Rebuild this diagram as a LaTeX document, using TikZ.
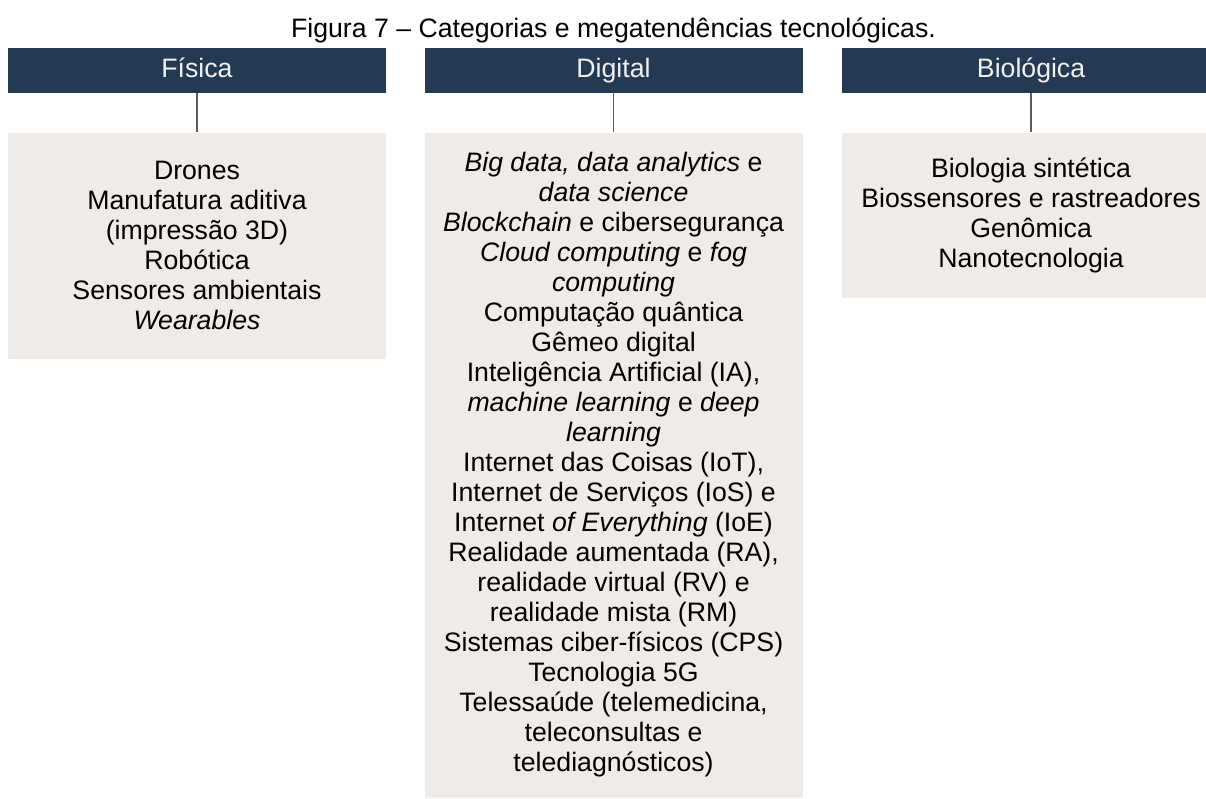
\documentclass[tikz,border=0pt]{standalone}
\usepackage{fontspec}
\setmainfont{Liberation Sans}
\usetikzlibrary{positioning}
\definecolor{navy}{HTML}{243A52}
\definecolor{stone}{HTML}{EEEBE8}
\definecolor{linkgray}{HTML}{5A5A5A}

\begin{document}
\begin{tikzpicture}[x=0.75pt, y=-0.75pt,
  every node/.style={font=\fontsize{20}{22.5}\selectfont},
  head/.style={rectangle, fill=navy, text=white!94!black, minimum width=283.5pt, minimum height=33.75pt,
    text height=14.5pt, text depth=4.5pt, inner sep=0pt},
  body/.style={rectangle, fill=stone, minimum width=283.5pt, align=center, inner sep=0pt},
  link/.style={draw=linkgray, line width=1.1pt},
]
\useasboundingbox (0,0) rectangle (1206,799);

% Caption
\node (caption) at (613.5,30) {Figura 7 -- Categorias e megatendências tecnológicas.};

% Category headers
\node[head] (fisica) at (197,70.5) {Física};
\node[head, right=28.5pt of fisica] (digital) {Digital};
\node[head, right=29.25pt of digital] (bio) {Biológica};

% Technology lists
\node[body, minimum height=169.5pt, below=29.25pt of fisica] (fisicalist) {
  Drones\\
  Manufatura aditiva\\
  (impressão 3D)\\
  Robótica\\
  Sensores ambientais\\
  \textit{Wearables}
};

\node[body, minimum height=498.75pt, below=29.25pt of digital] (digitallist) {
  \textit{Big data, data analytics} e\\
  \textit{data science}\\
  \textit{Blockchain} e cibersegurança\\
  \textit{Cloud computing} e \textit{fog}\\
  \textit{computing}\\
  Computação quântica\\
  Gêmeo digital\\
  Inteligência Artificial (IA),\\
  \textit{machine learning} e \textit{deep}\\
  \textit{learning}\\
  Internet das Coisas (IoT),\\
  Internet de Serviços (IoS) e\\
  Internet \textit{of Everything} (IoE)\\
  Realidade aumentada (RA),\\
  realidade virtual (RV) e\\
  realidade mista (RM)\\
  Sistemas ciber-físicos (CPS)\\
  Tecnologia 5G\\
  Telessaúde (telemedicina,\\
  teleconsultas e\\
  telediagnósticos)
};

\node[body, minimum height=123.75pt, below=29.25pt of bio] (biolist) {
  Biologia sintética\\
  Biossensores e rastreadores\\
  Genômica\\
  Nanotecnologia
};

% Stems from header to list
\draw[link] (fisica.south) -- (fisicalist.north);
\draw[link] (digital.south) -- (digitallist.north);
\draw[link] (bio.south) -- (biolist.north);

\end{tikzpicture}
\end{document}
